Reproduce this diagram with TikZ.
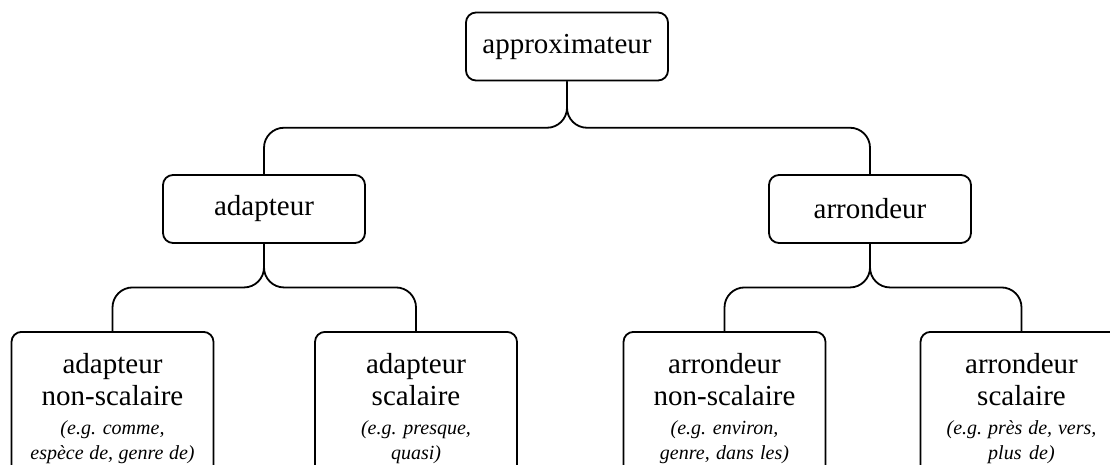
\documentclass[tikz,border=0pt]{standalone}
\usepackage{fontspec}
\setmainfont{Liberation Serif}
\usetikzlibrary{calc}

\newcommand{\egfont}{\fontsize{20}{25}\selectfont\itshape\frenchspacing
    \spaceskip=0pt\xspaceskip=0pt}

\tikzset{
  catbox/.style={draw, line width=1.8pt, rounded corners=10pt,
    minimum width=202pt, minimum height=68pt, inner xsep=6pt,
    font=\fontsize{29}{32}\selectfont, align=center},
  leafbox/.style={catbox, text width=190pt, anchor=north, inner ysep=21pt},
  branch/.style={line width=1.8pt, rounded corners=20pt},
}

\begin{document}
\begin{tikzpicture}[x=1pt, y=1pt]
    \useasboundingbox (0,0) rectangle (1110,464);
    \clip (0,0) rectangle (1110,464);

    \node[catbox] (root) at (567,417.5) {approximateur};

    \node[catbox] (adp) at (264,255) {adapteur};
    \node[catbox] (arr) at (870,255) {arrondeur};

    \node[leafbox] (adpns) at (112.5,133) {adapteur\\non-scalaire\par\vspace{4pt}
        \egfont (e.g. comme,\\espèce de, genre de)\par};
    \node[leafbox] (adps) at (416,133) {adapteur\\scalaire\par\vspace{4pt}
        \egfont (e.g. presque,\\quasi)\par};
    \node[leafbox] (arrns) at (724.5,133) {arrondeur\\non-scalaire\par\vspace{4pt}
        \egfont (e.g. environ,\\genre, dans les)\par};
    \node[leafbox] (arrs) at (1021.5,133) {arrondeur\\scalaire\par\vspace{4pt}
        \egfont (e.g. près de, vers,\\plus de)\par};

    % brace-like branches
    \foreach \p/\c in {root/adp, root/arr, adp/adpns, adp/adps, arr/arrns, arr/arrs}
        \draw[branch] (\p.south) |- ($(\p.south)!.5!(\c.north)$) -| (\c.north);
\end{tikzpicture}
\end{document}
